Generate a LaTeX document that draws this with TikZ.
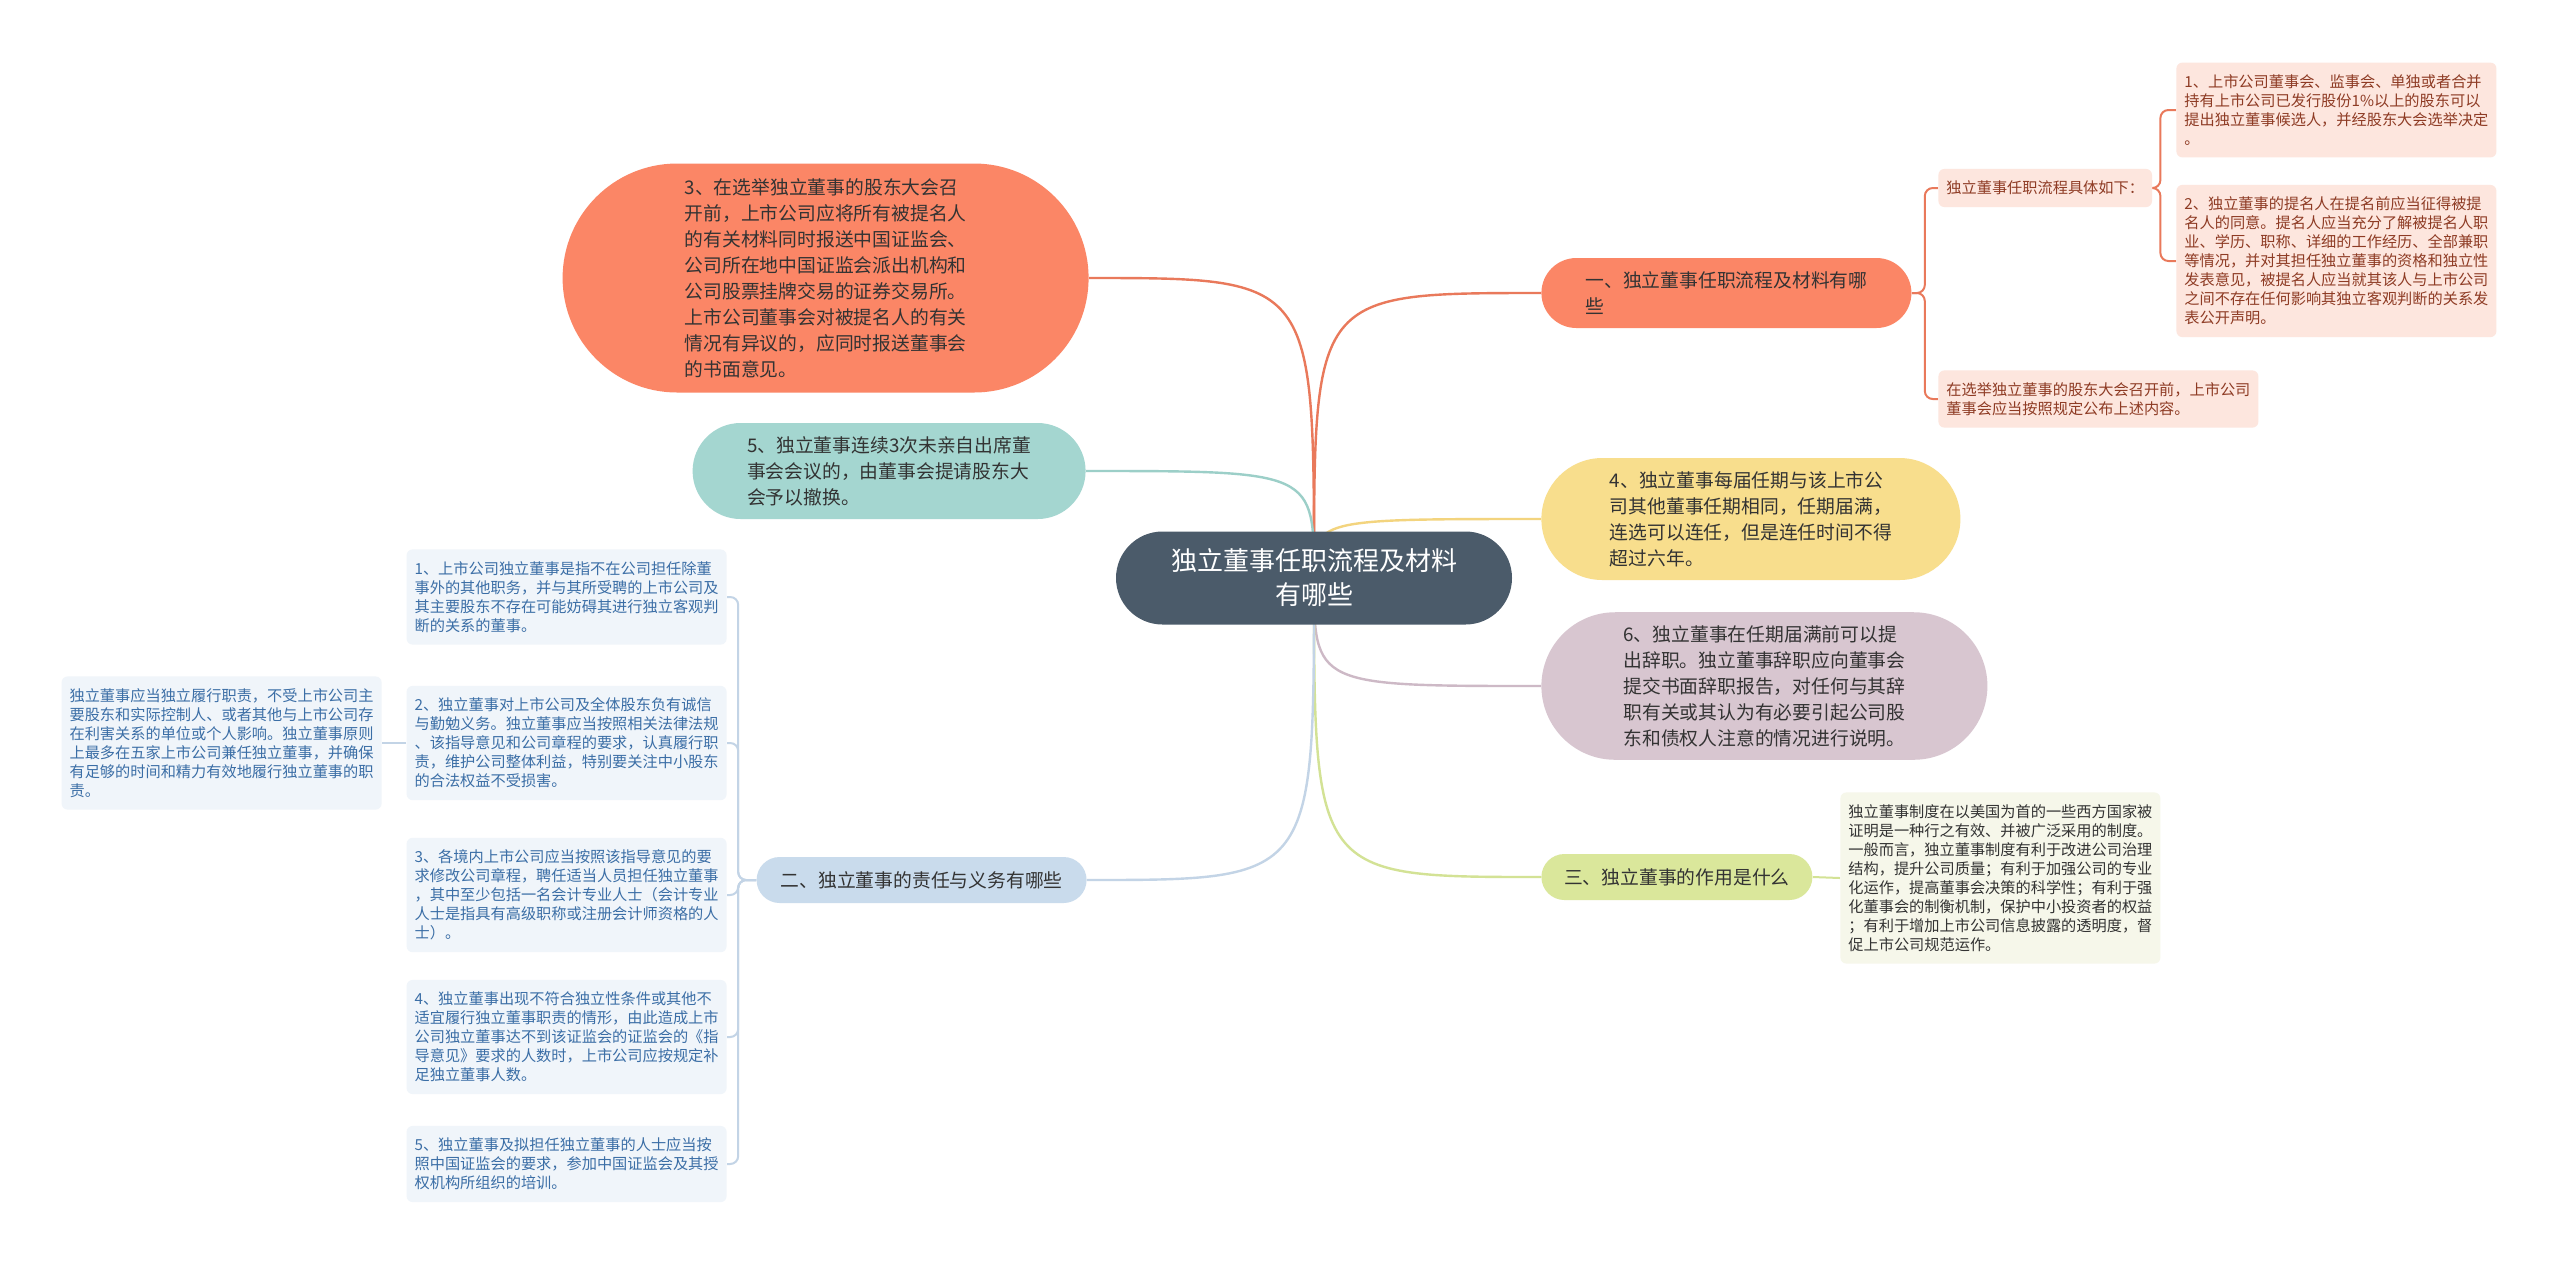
\documentclass[tikz,border=0pt]{standalone}
\usepackage{fontspec}
\setmainfont{Noto Sans CJK SC}
\usetikzlibrary{shapes.misc,backgrounds}
\definecolor{rootfill}{HTML}{4B5B6A}
\definecolor{textdark}{HTML}{333333}
\definecolor{coral}{HTML}{FB8666}
\definecolor{coralline}{HTML}{E9795B}
\definecolor{teal}{HTML}{A4D6D0}
\definecolor{tealline}{HTML}{9CCFC8}
\definecolor{butter}{HTML}{F8DE8D}
\definecolor{butterline}{HTML}{F3D47E}
\definecolor{mauve}{HTML}{D8C6D0}
\definecolor{mauveline}{HTML}{CDB9C6}
\definecolor{lime}{HTML}{DAE79B}
\definecolor{limeline}{HTML}{D3E295}
\definecolor{skyblue}{HTML}{C9DBEC}
\definecolor{skyline}{HTML}{C3D4E6}
\definecolor{pinkfill}{HTML}{FDE6DE}
\definecolor{pinktext}{HTML}{8E3B24}
\definecolor{bluefill}{HTML}{F0F5FA}
\definecolor{bluetext}{HTML}{3B6EA6}
\definecolor{greenfill}{HTML}{F6F7EA}
\tikzset{
  rootnode/.style={rounded rectangle, fill=rootfill, text=white,
    font=\fontsize{13}{17}\selectfont, align=center, inner xsep=4pt, inner ysep=8pt},
  mainnode/.style={rounded rectangle, text=textdark,
    font=\fontsize{9.4}{13}\selectfont, align=left, inner xsep=1pt, inner ysep=6.5pt},
  subnode/.style={rectangle, rounded corners=3pt,
    font=\fontsize{7.6}{9.5}\selectfont, align=left, inner xsep=4pt, inner ysep=6pt},
  pinknode/.style={subnode, fill=pinkfill, text=pinktext},
  bluenode/.style={subnode, fill=bluefill, text=bluetext},
  greennode/.style={subnode, fill=greenfill, text=textdark},
  branch/.style={line width=1.2pt},
  twig/.style={line width=1pt, rounded corners=4pt}
}
\begin{document}
\begin{tikzpicture}[x=0.5pt,y=-0.5pt]
  \useasboundingbox (0,0) rectangle (2560,1266);
  % centre
  \node[rootnode,minimum width=206pt,minimum height=46.5pt] (root) at (1314,578) {独立董事任职流程及材料\\有哪些};
  % right side
  \node[mainnode,fill=coral,anchor=west,minimum width=187pt,minimum height=35pt] (b1) at (1541,293) {一、独立董事任职流程及材料有哪\\些};
  \node[mainnode,fill=butter,anchor=west,minimum width=211.5pt,minimum height=61pt] (b4) at (1541,519) {4、独立董事每届任期与该上市公\\司其他董事任期相同，任期届满，\\连选可以连任，但是连任时间不得\\超过六年。};
  \node[mainnode,fill=mauve,anchor=west,minimum width=225pt,minimum height=73.5pt] (b6) at (1541,686) {6、独立董事在任期届满前可以提\\出辞职。独立董事辞职应向董事会\\提交书面辞职报告，对任何与其辞\\职有关或其认为有必要引起公司股\\东和债权人注意的情况进行说明。};
  \node[mainnode,fill=lime,anchor=west,minimum width=137.5pt,minimum height=23pt] (b3n) at (1541,877) {三、独立董事的作用是什么};
  \node[pinknode,anchor=west] (r1) at (1938,188) {独立董事任职流程具体如下：};
  \node[pinknode,anchor=west] (r2) at (1938,399) {在选举独立董事的股东大会召开前，上市公司\\董事会应当按照规定公布上述内容。};
  \node[pinknode,anchor=west] (r11) at (2176,110) {1、上市公司董事会、监事会、单独或者合并\\持有上市公司已发行股份1\%以上的股东可以\\提出独立董事候选人，并经股东大会选举决定\\。};
  \node[pinknode,anchor=west] (r12) at (2176,261) {2、独立董事的提名人在提名前应当征得被提\\名人的同意。提名人应当充分了解被提名人职\\业、学历、职称、详细的工作经历、全部兼职\\等情况，并对其担任独立董事的资格和独立性\\发表意见，被提名人应当就其该人与上市公司\\之间不存在任何影响其独立客观判断的关系发\\表公开声明。};
  \node[greennode,anchor=west] (t1) at (1840,878) {独立董事制度在以美国为首的一些西方国家被\\证明是一种行之有效、并被广泛采用的制度。\\一般而言，独立董事制度有利于改进公司治理\\结构，提升公司质量；有利于加强公司的专业\\化运作，提高董事会决策的科学性；有利于强\\化董事会的制衡机制，保护中小投资者的权益\\；有利于增加上市公司信息披露的透明度，督\\促上市公司规范运作。};
  % left side
  \node[mainnode,fill=coral,anchor=east,minimum width=265pt,minimum height=114.5pt] (a3) at (1089,278) {3、在选举独立董事的股东大会召\\开前，上市公司应将所有被提名人\\的有关材料同时报送中国证监会、\\公司所在地中国证监会派出机构和\\公司股票挂牌交易的证券交易所。\\上市公司董事会对被提名人的有关\\情况有异议的，应同时报送董事会\\的书面意见。};
  \node[mainnode,fill=teal,anchor=east,minimum width=198.5pt,minimum height=48pt] (a5) at (1086,471) {5、独立董事连续3次未亲自出席董\\事会会议的，由董事会提请股东大\\会予以撤换。};
  \node[mainnode,fill=skyblue,anchor=east,minimum width=167pt,minimum height=23pt] (b2) at (1087,880) {二、独立董事的责任与义务有哪些};
  \node[bluenode,anchor=east] (c1) at (727,597) {1、上市公司独立董事是指不在公司担任除董\\事外的其他职务，并与其所受聘的上市公司及\\其主要股东不存在可能妨碍其进行独立客观判\\断的关系的董事。};
  \node[bluenode,anchor=east] (c2) at (727,743) {2、独立董事对上市公司及全体股东负有诚信\\与勤勉义务。独立董事应当按照相关法律法规\\、该指导意见和公司章程的要求，认真履行职\\责，维护公司整体利益，特别要关注中小股东\\的合法权益不受损害。};
  \node[bluenode,anchor=east] (c3) at (727,895) {3、各境内上市公司应当按照该指导意见的要\\求修改公司章程，聘任适当人员担任独立董事\\，其中至少包括一名会计专业人士（会计专业\\人士是指具有高级职称或注册会计师资格的人\\士）。};
  \node[bluenode,anchor=east] (c4) at (727,1037) {4、独立董事出现不符合独立性条件或其他不\\适宜履行独立董事职责的情形，由此造成上市\\公司独立董事达不到该证监会的证监会的《指\\导意见》要求的人数时，上市公司应按规定补\\足独立董事人数。};
  \node[bluenode,anchor=east] (c5) at (727,1164) {5、独立董事及拟担任独立董事的人士应当按\\照中国证监会的要求，参加中国证监会及其授\\权机构所组织的培训。};
  \node[bluenode,anchor=east] (cL) at (382,743) {独立董事应当独立履行职责，不受上市公司主\\要股东和实际控制人、或者其他与上市公司存\\在利害关系的单位或个人影响。独立董事原则\\上最多在五家上市公司兼任独立董事，并确保\\有足够的时间和精力有效地履行独立董事的职\\责。};
  % connectors
  \begin{pgfonlayer}{background}
    \fill[white] (0,0) rectangle (2560,1266);
    \foreach \n/\c in {b1/coralline, b4/butterline, b6/mauveline, b3n/limeline}
      \draw[branch,\c] (root.center) .. controls (root.center |- \n.west) .. (\n.west);
    \foreach \n/\c in {a3/coralline, a5/tealline, b2/skyline}
      \draw[branch,\c] (root.center) .. controls (root.center |- \n.east) .. (\n.east);
    \foreach \n in {r1, r2}
      \draw[twig,coralline] (b1.east) -- ++(13,0) |- (\n.west);
    \foreach \n in {r11, r12}
      \draw[twig,coralline] (r1.east) -- ++(8,0) |- (\n.west);
    \foreach \n in {c1, c2, c3, c4, c5}
      \draw[twig,skyline] (b2.west) -- ++(-18,0) |- (\n.east);
    \draw[twig,skyline] (c2.west) -- (cL.east);
    \draw[twig,limeline] (b3n.east) -- (t1.west);
  \end{pgfonlayer}
\end{tikzpicture}
\end{document}
